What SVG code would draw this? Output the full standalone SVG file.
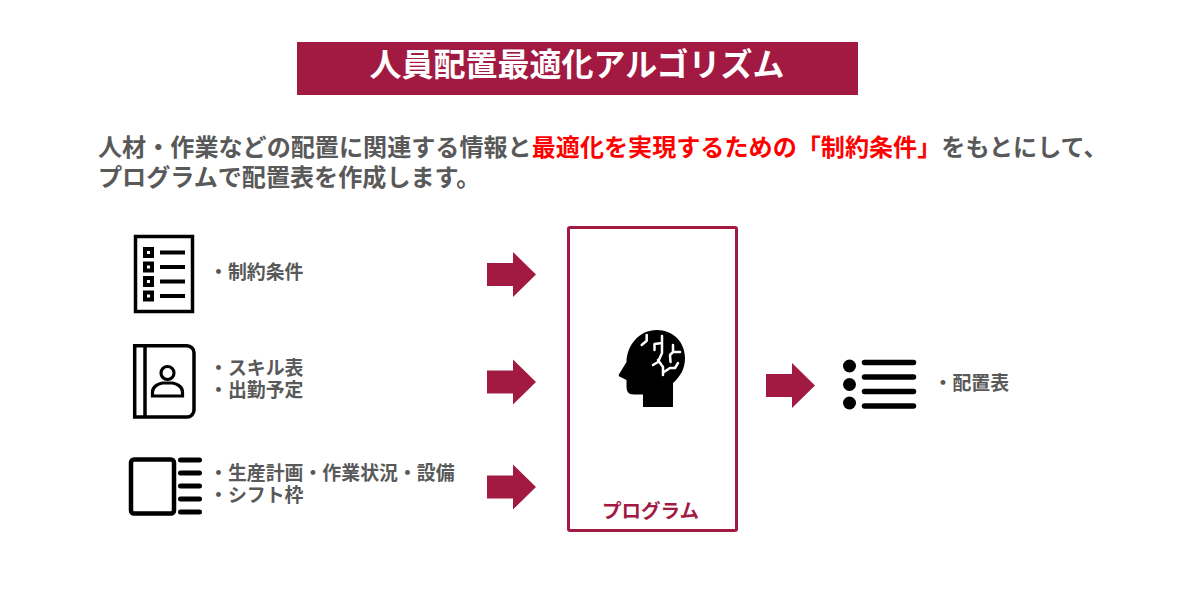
<svg xmlns="http://www.w3.org/2000/svg" width="1200" height="600" viewBox="0 0 1200 600">
<style>
text{font-family:"Noto Sans CJK JP","Noto Sans CJK SC",sans-serif;font-weight:700;fill:#595959}
.t{font-size:24.100px}.l{font-size:18.900px}
.red{fill:#ff0000}
.ar{fill:#a21a42}
.ln{fill:none;stroke:#000;stroke-linecap:round}
.ic{fill:none;stroke:#000}
</style>
<defs>
<polygon id="arrow" points="0,-11.5 26,-11.5 26,-22.5 49,0 26,22.5 26,11.5 0,11.5"/>
</defs>
<rect width="1200" height="600" fill="#fff"/>
<g id="title">
<rect x="297" y="42" width="561" height="53" fill="#a21a42"/>
<text x="577" y="76" text-anchor="middle" font-size="32" style="fill:#fff">人員配置最適化アルゴリズム</text>
</g>
<g id="intro">
<text class="t" x="98" y="156">人材・作業などの配置に関連する情報と<tspan class="red">最適化を実現するための「制約条件」</tspan>をもとにして、<tspan x="98" y="186">プログラムで配置表を作成します。</tspan></text>
</g>
<g id="node-constraints">
<rect class="ic" x="135.500" y="236.500" width="57" height="75" stroke-width="3.500"/>
<g fill="#000">
<rect x="143" y="247" width="11" height="11"/><rect x="143" y="261.500" width="11" height="11"/><rect x="143" y="276" width="11" height="11"/><rect x="143" y="290.500" width="11" height="11"/>
</g>
<g fill="#fff">
<rect x="147" y="251" width="3" height="3"/><rect x="147" y="265.500" width="3" height="3"/><rect x="147" y="280" width="3" height="3"/><rect x="147" y="294.500" width="3" height="3"/>
</g>
<g fill="#000">
<rect x="160" y="250.500" width="25" height="4"/><rect x="160" y="265" width="25" height="4"/><rect x="160" y="279.500" width="25" height="4"/><rect x="160" y="294" width="25" height="4"/>
</g>
<text class="l" x="209" y="278.500">・制約条件</text>
</g>
<g id="node-skills">
<path class="ic" stroke-width="3.500" d="M134.700 345.700H187a7 7 0 0 1 7 7V410a7 7 0 0 1-7 7H134.700ZM145 345.700V417"/>
<circle class="ic" cx="167.500" cy="373" r="6.500" stroke-width="3.200"/>
<path class="ic" stroke-width="3.200" d="M152.500 396v-4c0-6 7-8.500 10-9h10c3 .5 10 3 10 9v4Z"/>
<text class="l" x="209" y="374.500">・スキル表<tspan x="209" y="396.500">・出勤予定</tspan></text>
</g>
<g id="node-plan">
<rect class="ic" x="131" y="459.500" width="43" height="54" rx="3" stroke-width="4.500"/>
<path class="ln" stroke-width="5" d="M180.500 460H199.500M180.500 473H199.500M180.500 486H199.500M180.500 499H199.500M180.500 512H199.500"/>
<text class="l" x="209" y="479.500">・生産計画・作業状況・設備<tspan x="209" y="501.500">・シフト枠</tspan></text>
</g>
<g id="connectors">
<use href="#arrow" class="ar" x="487" y="274.500"/>
<use href="#arrow" class="ar" x="487" y="382"/>
<use href="#arrow" class="ar" x="487" y="487"/>
<use href="#arrow" class="ar" x="766" y="385.500"/>
</g>
<g id="node-program">
<rect x="568.500" y="227.500" width="168" height="303" rx="1.500" fill="none" stroke="#a21a42" stroke-width="3"/>
<text x="650.500" y="518" text-anchor="middle" font-size="19.500" style="fill:#a21a42">プログラム</text>
<path fill="#000" d="M643 407V394.500H634C628 394.500 626.500 391 626.500 386V380L619.500 376.500C618.500 376 618.500 374.500 619.500 373.500L626.500 362C627 345 639 330 657 330C673 330 685 342 685 358C685 369 680 377 673 383V407Z"/>
<g fill="none" stroke="#fff" stroke-width="2.500" stroke-linecap="round" stroke-linejoin="round">
<path d="M641.700 345L646.700 340.700V335"/>
<path d="M662 336V343L654.500 344V350M662 343V353L658 362L653 365M658 360L663 367V375M664 372L670 368H675L678 363"/>
<path d="M673 345V352H680M673 352L670 355L670.500 362"/>
</g>
</g>
<g id="node-roster">
<circle cx="849.500" cy="366" r="6.500" fill="#000"/><circle cx="849.500" cy="384.500" r="6.500" fill="#000"/><circle cx="849.500" cy="403" r="6.500" fill="#000"/>
<path class="ln" stroke-width="5.500" d="M864.500 362.500H913.500M864.500 377H913.500M864.500 391.500H913.500M864.500 406H913.500"/>
<text class="l" x="933.500" y="390">・配置表</text>
</g>
</svg>
